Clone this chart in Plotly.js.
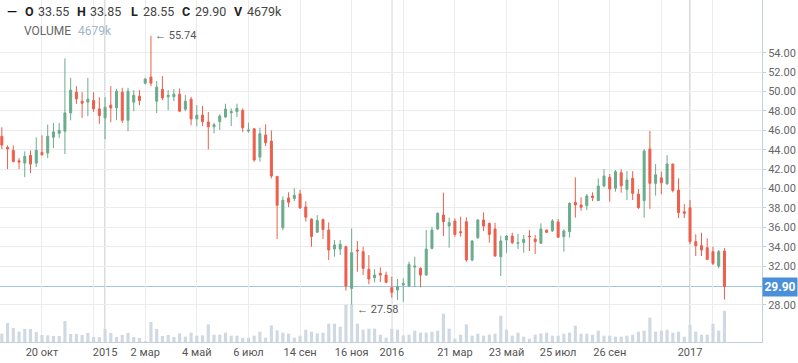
<!DOCTYPE html>
<html>
<head>
<meta charset="utf-8">
<script src="https://cdn.plot.ly/plotly-3.0.1.min.js"></script>
<style>
html,body{margin:0;padding:0;background:#fff;}
#chart{width:798px;height:363px;}
</style>
</head>
<body>
<div id="chart"></div>
<script>
// Weekly candles (index 0 = first week shown)
const openP = [45.38,44.24,43.93,42.86,42.62,43.41,42.62,43.72,43.66,45.28,
45.69,45.90,47.79,49.93,49.00,48.90,49.07,48.21,47.28,48.59,
48.31,49.93,47.03,48.90,49.52,50.86,51.48,49.00,50.21,49.45,
49.45,49.72,48.17,49.21,47.17,47.57,46.85,46.37,46.89,47.37,
47.81,47.92,48.05,45.92,46.16,43.24,45.51,44.89,41.25,35.95,
39.03,38.96,39.44,38.10,36.85,35.50,36.80,35.72,33.76,33.76,
34.00,29.70,33.66,33.49,31.67,30.80,31.25,31.08,29.78,29.54,
30.05,29.95,31.90,31.77,31.08,33.83,35.83,37.27,36.13,36.65,
35.55,36.58,32.63,34.93,36.75,36.41,35.83,32.97,34.69,35.10,
34.35,34.42,35.10,34.79,34.35,35.72,35.62,36.55,35.03,35.55,
38.57,38.30,38.23,39.23,38.75,40.26,41.15,40.02,41.63,39.91,
41.05,39.43,38.75,44.07,40.53,41.10,40.50,42.53,39.85,37.61,
38.02,34.52,34.11,33.90,33.49,32.01,33.55];

const highP = [46.31,44.45,44.45,43.14,43.83,43.93,45.28,45.48,46.59,46.76,
46.76,53.41,51.41,50.55,49.93,51.41,49.93,49.41,49.41,50.55,
50.28,50.38,50.38,50.14,50.14,51.41,55.74,51.07,51.59,50.14,
50.24,50.31,49.62,49.45,48.59,48.50,47.88,46.78,47.64,48.74,
48.26,48.74,48.26,46.78,46.16,46.27,46.61,45.99,41.25,39.20,
39.61,40.02,39.88,38.68,36.90,37.25,36.90,36.51,34.69,34.69,
34.10,35.89,34.59,34.00,33.14,31.70,31.87,31.43,30.91,30.67,
30.74,32.46,32.97,31.87,35.72,36.06,37.54,39.57,36.99,36.92,
37.10,37.03,34.70,36.85,37.54,36.48,36.48,35.14,35.21,35.45,
35.31,35.21,35.72,35.21,36.41,35.75,36.85,36.85,35.79,38.58,
41.15,39.09,39.43,39.60,41.05,42.01,41.49,41.91,41.98,41.80,
41.80,39.95,44.07,45.93,42.53,41.73,43.45,42.53,41.05,38.40,
38.81,35.28,35.45,34.86,34.00,33.66,33.85];

const lowP = [44.07,42.00,42.69,42.00,41.17,41.59,42.21,43.38,43.14,44.17,
45.21,43.55,47.03,48.72,47.28,47.45,47.90,46.66,45.10,46.83,
47.03,46.76,45.90,47.97,48.59,50.72,50.55,47.79,49.10,48.07,
49.00,47.86,47.97,46.52,46.41,46.44,44.03,45.68,46.03,47.30,
46.44,47.37,45.82,45.75,42.76,42.76,44.38,41.04,34.80,35.70,
38.07,38.68,37.90,36.60,34.00,35.40,34.80,32.63,32.97,33.14,
29.47,27.58,31.43,31.08,30.12,30.33,30.36,30.22,28.75,28.50,
28.33,29.88,29.88,29.81,31.01,33.73,35.72,35.10,33.90,35.03,
35.03,32.46,32.50,34.80,35.62,34.42,32.97,30.98,33.38,34.28,
33.76,33.38,33.55,33.25,34.35,35.45,35.55,34.93,33.49,34.93,
37.00,37.71,37.78,38.71,38.75,40.12,38.64,39.67,39.57,38.81,
38.81,37.90,37.00,37.90,39.26,39.40,40.35,39.60,36.95,36.95,
34.28,33.04,33.04,32.63,32.11,31.77,28.55];

const closeP = [44.48,44.07,42.79,42.72,43.31,42.52,43.93,43.48,45.38,45.83,
46.00,47.79,50.14,49.24,48.79,49.21,48.21,47.52,48.38,48.31,
50.03,47.03,50.03,49.62,49.07,51.28,50.86,50.45,49.34,49.62,
49.72,47.97,49.00,47.17,47.55,46.89,46.37,46.58,47.47,48.19,
47.92,48.26,46.27,46.03,42.93,45.65,44.72,41.28,38.27,38.79,
38.58,39.30,38.00,37.05,35.06,36.70,35.78,33.66,34.18,34.25,
29.95,33.39,33.56,31.77,30.67,31.08,31.08,30.33,29.30,29.88,
30.22,32.18,32.00,31.08,33.76,35.72,37.44,36.58,36.48,35.27,
35.45,32.63,34.59,36.75,36.13,35.27,33.04,34.59,35.10,34.42,
34.42,34.76,35.03,34.52,35.83,35.48,36.65,34.97,35.62,38.47,
38.30,38.06,39.23,39.05,40.26,41.29,39.95,41.73,40.29,40.88,
39.50,38.03,43.86,40.53,41.42,40.60,42.53,39.80,37.51,37.44,
34.52,34.11,33.66,32.70,32.28,33.49,29.90];

// Volume in thousands
const volumeK = [1250,2850,2100,1550,1950,1950,1500,1050,1000,900,
900,3150,1200,1200,1050,1350,750,750,1950,1350,
750,1050,1350,750,600,150,3000,1950,900,1050,
750,1300,800,1400,950,1000,2650,1100,1100,1400,
950,950,650,650,950,1550,650,2500,1750,1400,
1250,650,950,1850,1550,1300,1400,2750,2750,2300,
5600,5600,2750,1850,2000,2000,1100,650,1950,1850,
1000,1100,1700,1400,1400,1550,1700,4250,2000,500,
1100,2650,950,1250,950,1100,1250,3950,1850,950,
1400,800,500,1100,1300,1400,950,950,1250,1400,
2450,1250,1250,1100,1700,950,950,800,800,950,
1100,1550,1700,3650,1550,1700,1850,1400,1550,800,
2600,1550,1100,1100,2750,1700,4679];

// X tick positions (week index) and labels
const tickIdx   = [7, 16, 25, 34, 43, 52, 61, 70, 79, 88, 97, 106, 115, 124, 18, 68, 120];
const tickLabel = ['20 окт','','2 мар','4 май','6 июл','14 сен','16 ноя','','21 мар','23 май','25 июл','26 сен','','',
                   '2015','2016','2017'];
const yearIdx = [18, 68, 120];
const priceTicks = [28,32,34,36,38,40,42,44,46,48,50,52,54];

const GREEN = '#6aab8d', RED = '#ec5f4c';
const idx = openP.map((_, i) => i);
const last = idx.length - 1;

const volTrace = {
  type: 'bar', x: idx, y: volumeK, yaxis: 'y2', xaxis: 'x',
  marker: {color: '#d0d9e2'}, hoverinfo: 'skip'
};
const candle = {
  type: 'candlestick', x: idx, open: openP, high: highP, low: lowP, close: closeP,
  xaxis: 'x', yaxis: 'y',
  increasing: {line: {color: GREEN, width: 1}, fillcolor: GREEN},
  decreasing: {line: {color: RED, width: 1}, fillcolor: RED},
  whiskerwidth: 0, hoverinfo: 'skip'
};

// find extremes
let hiI = 0, loI = 0;
highP.forEach((v, i) => { if (v > highP[hiI]) hiI = i; });
lowP.forEach((v, i) => { if (v < lowP[loI]) loI = i; });

const PW = 762, PH = 342;
const FONT = 'Roboto, Arial, sans-serif';
function px(x){ return x / PW; }
function py(y){ return 1 - y / PH; }

const annotations = [];
function hdr(x, text, color, bold, size){
  annotations.push({xref:'paper', yref:'paper', x: px(x), y: py(11), xanchor:'left', yanchor:'middle',
    text: bold ? '<b>'+text+'</b>' : text, showarrow:false,
    font:{family: FONT, size: size || 12.5, color: color}});
}
hdr(5, '—', '#111', true, 13);
hdr(23, 'O', '#222', true);
hdr(36, openP[last].toFixed(2), '#444', false);
hdr(75, 'H', '#222', true);
hdr(88, highP[last].toFixed(2), '#444', false);
hdr(129, 'L', '#222', true);
hdr(141, lowP[last].toFixed(2), '#444', false);
hdr(180, 'C', '#222', true);
hdr(193, closeP[last].toFixed(2), '#444', false);
hdr(232, 'V', '#222', true);
hdr(245, volumeK[last] + 'k', '#444', false);
annotations.push({xref:'paper', yref:'paper', x: px(22), y: py(31), xanchor:'left', yanchor:'middle',
  text:'VOLUME', showarrow:false, font:{family: FONT, size: 12, color:'#666'}});
annotations.push({xref:'paper', yref:'paper', x: px(76), y: py(31), xanchor:'left', yanchor:'middle',
  text: volumeK[last] + 'k', showarrow:false, font:{family: FONT, size: 12, color:'#a3b5c8'}});
annotations.push({x: hiI, y: highP[hiI], xref:'x', yref:'y', xanchor:'left', yanchor:'middle', xshift: 2,
  text:'← ' + highP[hiI].toFixed(2), showarrow:false, font:{family: FONT, size: 11, color:'#555'}});
annotations.push({x: loI, y: lowP[loI], xref:'x', yref:'y', xanchor:'left', yanchor:'middle', xshift: 3,
  text:'← ' + lowP[loI].toFixed(2), showarrow:false, font:{family: FONT, size: 11, color:'#555'}});
annotations.push({xref:'paper', yref:'y', x: 1, y: closeP[last], xanchor:'left', yanchor:'middle',
  text:'<b>' + closeP[last].toFixed(2) + '</b>', showarrow:false, bgcolor:'#4a8fd9',
  width: 32, height: 16, borderpad: 1, font:{family: FONT, size: 12, color:'#fff'}});

const shapes = yearIdx.map(v => ({type:'line', xref:'x', yref:'paper', x0: v, x1: v, y0: 0, y1: 1,
  line:{color:'#b3b3b3', width:1}, layer:'between'}));
shapes.push({type:'line', xref:'paper', yref:'y', x0: 0, x1: 1, y0: closeP[last], y1: closeP[last],
  line:{color:'#a3c4ea', width:1}, layer:'between'});

const layout = {
  width: 798, height: 363,
  margin: {l: 0, r: 36, t: 0, b: 21, pad: 0},
  paper_bgcolor: '#fff', plot_bgcolor: '#fff',
  showlegend: false, bargap: 0.45, boxgap: 0.5,
  font: {family: FONT},
  xaxis: {
    range: [-0.32, 132.55], tickmode: 'array', tickvals: tickIdx, ticktext: tickLabel,
    showgrid: true, gridcolor: '#ececec', gridwidth: 1, zeroline: false,
    showline: true, linecolor: '#c3d0dc', ticks: '',
    tickfont: {family: FONT, size: 11, color: '#555'},
    rangeslider: {visible: false}, fixedrange: true
  },
  yaxis: {
    side: 'right', range: [24.18, 59.43], tickmode: 'array', tickvals: priceTicks,
    tickformat: '.2f', showgrid: true, gridcolor: '#ececec', zeroline: false,
    showline: true, linecolor: '#c3d0dc', ticks: 'outside', ticklen: 3, tickcolor: '#c3d0dc',
    tickfont: {family: FONT, size: 11, color: '#666'}, fixedrange: true
  },
  yaxis2: {overlaying: 'y', range: [0, 51300], visible: false, fixedrange: true},
  annotations: annotations,
  shapes: shapes,
  hovermode: false
};

Plotly.newPlot('chart', [volTrace, candle], layout, {displayModeBar: false, staticPlot: true});
</script>
</body>
</html>
